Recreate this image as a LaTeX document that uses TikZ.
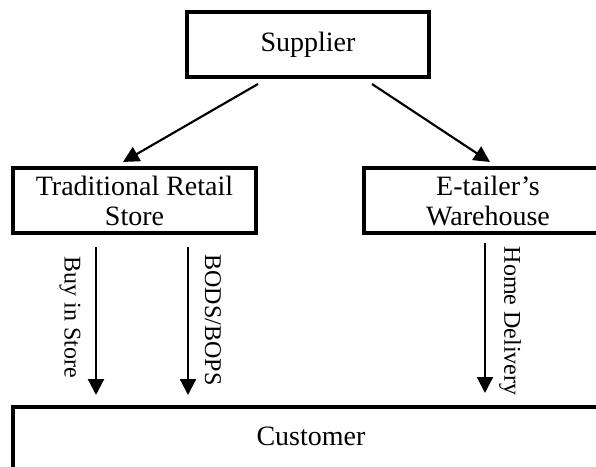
\documentclass[tikz,border=0pt]{standalone}
\usepackage{fontspec}
\setmainfont{Liberation Serif}
\usetikzlibrary{arrows.meta}
\begin{document}
\begin{tikzpicture}[x=0.75pt,y=-0.75pt,
  boxnode/.style={draw, line width=2.6pt, inner sep=0pt, align=center,
    font=\fontsize{21}{22.5}\selectfont},
  boxtext/.style={inner sep=0pt, font=\fontsize{21}{22.5}\selectfont},
  flow/.style={line width=1.6pt, -{Triangle[length=12pt,width=12pt]}},
  lbl/.style={inner sep=0pt, rotate=-90, font=\fontsize{18}{20}\selectfont}]
\clip (0,0) rectangle (596,467);
\useasboundingbox (0,0) rectangle (596,467);
% boxes
\node[boxnode, minimum width=242*0.75pt, minimum height=65*0.75pt] (sup) at (308,44.5) {Supplier};
\node[boxnode, minimum width=243*0.75pt, minimum height=65*0.75pt] (trad) at (134.5,200.5) {Traditional Retail\\Store};
\node[boxnode, minimum width=248*0.75pt, minimum height=65*0.75pt] (etail) at (488,200.5) {E-tailer’s\\Warehouse};
\node[boxnode, minimum width=596*0.75pt, minimum height=80*0.75pt] (cust) at (311,447) {};
\node[boxtext] (custtext) at (311,436) {Customer};
% connector end points
\coordinate (s1) at (258,84);
\coordinate (t1) at (123,162);
\coordinate (s2) at (372,84);
\coordinate (t2) at (490,162);
\coordinate (b1) at (96,247);
\coordinate (b1e) at (96,395);
\coordinate (b2) at (188,247);
\coordinate (b2e) at (188,395);
\coordinate (h1) at (485,243);
\coordinate (h1e) at (485,393);
% connectors
\draw[flow] (s1) -- (t1);
\draw[flow] (s2) -- (t2);
\draw[flow] (b1) -- (b1e);
\draw[flow] (b2) -- (b2e);
\draw[flow] (h1) -- (h1e);
% labels
\node[lbl] (l1) at (70,317) {Buy in Store};
\node[lbl] (l2) at (213,320) {BODS/BOPS};
\node[lbl] (l3) at (510,321) {Home Delivery};
\end{tikzpicture}
\end{document}
